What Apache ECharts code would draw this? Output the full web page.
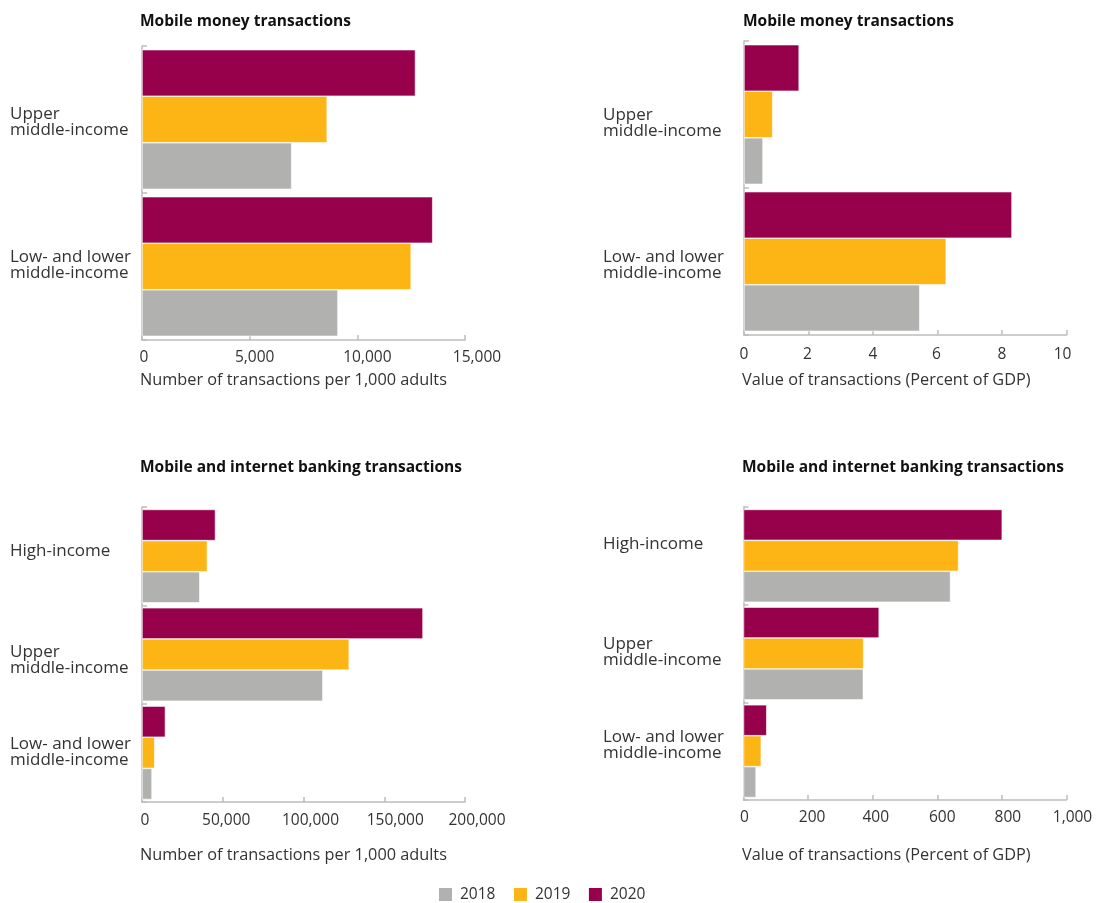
<!DOCTYPE html>
<html>
<head>
<meta charset="utf-8">
<script src="https://cdn.jsdelivr.net/npm/echarts@6/dist/echarts.min.js"></script>
<style>html,body{margin:0;padding:0;background:#fff}#c{width:1100px;height:903px}</style>
</head>
<body>
<div id="c"></div>
<script>
const years = ['2018', '2019', '2020'];
const colors = ['#b1b1b0', '#fdb515', '#97004b'];

const catsMM = ['Low- and lower\nmiddle-income', 'Upper\nmiddle-income'];
const catsMB = ['Low- and lower\nmiddle-income', 'Upper\nmiddle-income', 'High-income'];

// Panel 1: Mobile money, transactions per 1,000 adults [Low, Upper]
const mmCount2018 = [9100, 6950];
const mmCount2019 = [12500, 8600];
const mmCount2020 = [13500, 12700];
// Panel 2: Mobile money, value (% of GDP) [Low, Upper]
const mmValue2018 = [5.45, 0.59];
const mmValue2019 = [6.27, 0.89];
const mmValue2020 = [8.31, 1.71];
// Panel 3: Mobile & internet banking, transactions per 1,000 adults [Low, Upper, High]
const mbCount2018 = [6200, 112000, 35800];
const mbCount2019 = [7900, 128300, 40500];
const mbCount2020 = [14500, 174000, 45500];
// Panel 4: Mobile & internet banking, value (% of GDP) [Low, Upper, High]
const mbValue2018 = [39, 371, 641];
const mbValue2019 = [55, 372, 666];
const mbValue2020 = [72, 420, 801];

// Tick labels of the value axes
const ticksMMCount = [0, 5000, 10000, 15000];
const ticksMMValue = [0, 2, 4, 6, 8, 10];
const ticksMBCount = [0, 50000, 100000, 150000, 200000];
const ticksMBValue = [0, 200, 400, 600, 800, 1000];

const panelTitles = ['Mobile money transactions', 'Mobile money transactions', 'Mobile and internet banking transactions', 'Mobile and internet banking transactions'];
const axisNames = ['Number of transactions per 1,000 adults', 'Value of transactions (Percent of GDP)', 'Number of transactions per 1,000 adults', 'Value of transactions (Percent of GDP)'];

const FONT = 'Open Sans';
const FS = 15.5;
const grids = [
  {left: 142, top: 46, width: 323, height: 294},
  {left: 744, top: 41, width: 322.5, height: 294},
  {left: 142, top: 507, width: 323, height: 295},
  {left: 743.5, top: 507, width: 323, height: 293}
];
const panelTicks = [ticksMMCount, ticksMMValue, ticksMBCount, ticksMBValue];
const panelCats = [catsMM, catsMM, catsMB, catsMB];
const panelData = [
  [mmCount2018, mmCount2019, mmCount2020],
  [mmValue2018, mmValue2019, mmValue2020],
  [mbCount2018, mbCount2019, mbCount2020],
  [mbValue2018, mbValue2019, mbValue2020]
];
const titlePos = [
  {left: 140, top: 14}, {left: 743, top: 14}, {left: 140, top: 460}, {left: 742, top: 460}
];
const namePos = [
  {left: 140, top: 372}, {left: 742, top: 372}, {left: 140, top: 847}, {left: 742, top: 847}
];
// layout nudges for labels (px)
const catLabelX = [10, 603, 10, 603];
const catLabelDy = [[-1.5, 3], [3.7, 8.3], [-0.5, 5.3, -5.2], [-6.5, -1.5, -11.5]];
const tickLabelDx = [[2, 5, 10, 12], [0, -1, 0, -1, 0, -4], [3, 3.5, 7, 11, 12], [1, 4, 3, 5, 6, 6]];
const tickLabelDy = [17.5, 19.5, 18.5, 17.5];

const axisLineStyle = {color: '#bdbdbd', width: 1.5};

const titles = [];
panelTitles.forEach((t, i) => titles.push({text: t, left: titlePos[i].left, top: titlePos[i].top, padding: 0,
  textStyle: {fontFamily: FONT, fontSize: FS, fontWeight: 'bold', color: '#111'}}));
axisNames.forEach((t, i) => titles.push({text: t, left: namePos[i].left, top: namePos[i].top, padding: 0,
  textStyle: {fontFamily: FONT, fontSize: 16.3, fontWeight: 'normal', color: '#333'}}));

const xAxes = grids.map((g, i) => {
  const t = panelTicks[i];
  return {
    type: 'value', gridIndex: i, min: t[0], max: t[t.length - 1], interval: t[1] - t[0],
    splitLine: {show: false},
    axisLine: {show: true, lineStyle: axisLineStyle},
    axisTick: {show: true, inside: true, length: 5, lineStyle: axisLineStyle},
    axisLabel: {show: false}
  };
});
const yAxes = grids.map((g, i) => ({
  type: 'category', gridIndex: i, data: panelCats[i],
  axisLine: {show: true, lineStyle: axisLineStyle},
  axisTick: {show: true, inside: true, length: 5, lineStyle: axisLineStyle},
  axisLabel: {show: false}
}));

// Series pushed 2020 first so that 2020 sits at the top of each group
const series = [];
panelData.forEach((arrs, i) => {
  for (let k = arrs.length - 1; k >= 0; k--) {
    series.push({
      type: 'bar', name: years[k], xAxisIndex: i, yAxisIndex: i, data: arrs[k],
      barGap: '0%', barCategoryGap: '5%',
      itemStyle: {color: colors[k], borderColor: '#fff', borderWidth: 0.6},
      emphasis: {disabled: true}
    });
  }
});

const chart = echarts.init(document.getElementById('c'));
chart.setOption({
  animation: false,
  color: colors,
  title: titles,
  legend: {data: years, left: 437, bottom: 0, padding: 0, itemWidth: 15, itemHeight: 15, itemGap: 16.5,
    icon: 'rect', textStyle: {fontFamily: FONT, fontSize: FS, color: '#333', padding: [0, 0, 0, 2]}},
  grid: grids,
  xAxis: xAxes,
  yAxis: yAxes,
  series: series
});

// Axis labels placed through the library's own scales
const graphics = [];
grids.forEach((g, i) => {
  panelCats[i].forEach((c, j) => {
    const py = chart.convertToPixel({yAxisIndex: i}, j);
    graphics.push({type: 'text', silent: true, x: catLabelX[i], y: py + catLabelDy[i][j],
      style: {text: c, fontFamily: FONT, fontSize: 17, lineHeight: 16, fill: '#333',
        align: 'left', verticalAlign: 'middle'}});
  });
  const yAxisPx = g.top + g.height;
  panelTicks[i].forEach((v, j) => {
    const px = chart.convertToPixel({xAxisIndex: i}, v);
    graphics.push({type: 'text', silent: true, x: px + tickLabelDx[i][j], y: yAxisPx + tickLabelDy[i],
      style: {text: v.toLocaleString('en-US'), fontFamily: FONT, fontSize: FS, fill: '#333',
        align: 'center', verticalAlign: 'middle'}});
  });
});
chart.setOption({graphic: graphics});
</script>
</body>
</html>
